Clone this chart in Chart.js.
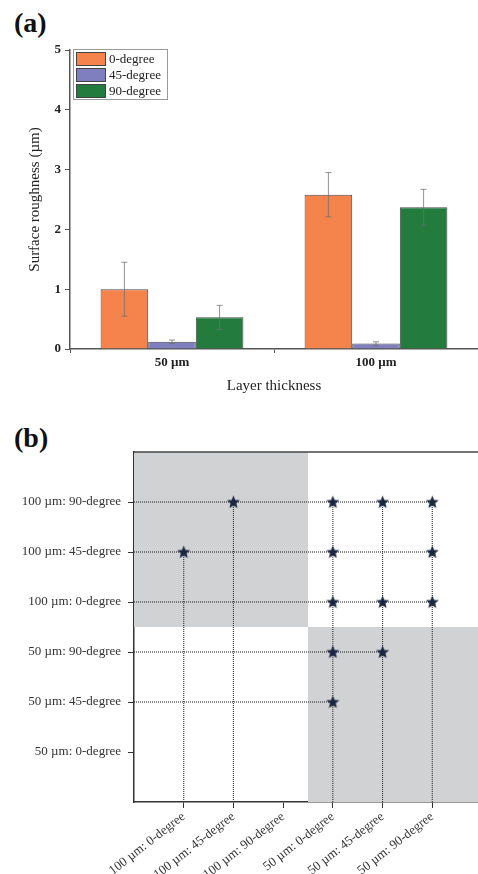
<!DOCTYPE html>
<html lang="en">
<head>
    <meta charset="UTF-8">
    <title>Surface roughness</title>
    <script src="https://cdn.jsdelivr.net/npm/chart.js"></script>
    <style>
        body {
            margin: 0;
            padding: 0;
            width: 478px;
            height: 874px;
            overflow: hidden;
            background: #ffffff;
            position: relative;
            font-family: 'Liberation Serif', 'DejaVu Serif', serif;
        }
        .panel-tag {
            position: absolute;
            left: 14px;
            font-size: 28px;
            font-weight: bold;
            line-height: 28px;
            color: #111;
        }
        canvas {
            position: absolute;
            left: 0;
        }
    </style>
</head>
<body>
    <div class="panel-tag" style="top: 9px;">(a)</div>
    <div class="panel-tag" style="top: 424px;">(b)</div>

    <canvas id="graficaA" width="478" height="400" style="top: 0;"></canvas>
    <canvas id="graficaB" width="490" height="474" style="top: 400px;"></canvas>

    <script>
        // ---- datos panel (a) ----
        const thickness = ['50 µm', '100 µm'];
        const orientations = ['0-degree', '45-degree', '90-degree'];
        const rough0 = [1.00, 2.58];
        const rough45 = [0.12, 0.09];
        const rough90 = [0.53, 2.37];
        const err0 = [0.45, 0.37];
        const err45 = [0.03, 0.03];
        const err90 = [0.20, 0.30];

        // ---- datos panel (b) ----
        const xGroups = ['100 µm: 0-degree', '100 µm: 45-degree', '100 µm: 90-degree',
                         '50 µm: 0-degree', '50 µm: 45-degree', '50 µm: 90-degree'];
        const yGroups = ['50 µm: 0-degree', '50 µm: 45-degree', '50 µm: 90-degree',
                         '100 µm: 0-degree', '100 µm: 45-degree', '100 µm: 90-degree'];
        // pares significativos (indice 1..6 en cada eje)
        const sigX = [2, 1, 4, 5, 6, 4, 6, 4, 5, 6, 4, 5, 4];
        const sigY = [6, 5, 6, 6, 6, 5, 5, 4, 4, 4, 3, 3, 2];

        const serif = "'Liberation Serif', 'DejaVu Serif', serif";
        const colores = ['#f4834c', '#7f7fbf', '#237c3e'];

        // barras de error
        const errorBars = {
            id: 'errorBars',
            afterDatasetsDraw(chart) {
                const ctx = chart.ctx;
                const y = chart.scales.y;
                chart.data.datasets.forEach((ds, i) => {
                    const meta = chart.getDatasetMeta(i);
                    meta.data.forEach((bar, j) => {
                        const v = ds.data[j], e = ds.errors[j];
                        const top = y.getPixelForValue(v + e);
                        const bot = y.getPixelForValue(v - e);
                        ctx.save();
                        ctx.strokeStyle = 'rgba(110,110,110,0.75)';
                        ctx.lineWidth = 1;
                        ctx.beginPath();
                        ctx.moveTo(bar.x, top); ctx.lineTo(bar.x, bot);
                        ctx.moveTo(bar.x - 3, top); ctx.lineTo(bar.x + 3, top);
                        ctx.moveTo(bar.x - 3, bot); ctx.lineTo(bar.x + 3, bot);
                        ctx.stroke();
                        ctx.restore();
                    });
                });
            }
        };

        // leyenda dentro del area
        const boxLegend = {
            id: 'boxLegend',
            afterDraw(chart) {
                const ctx = chart.ctx;
                const a = chart.chartArea;
                const x0 = a.left + 3, y0 = a.top - 1;
                ctx.save();
                ctx.fillStyle = '#fff';
                ctx.fillRect(x0, y0, 94, 50);
                ctx.strokeStyle = '#9a9a9a';
                ctx.lineWidth = 1;
                ctx.strokeRect(x0 + 0.5, y0 + 0.5, 94, 50);
                ctx.font = '13px ' + serif;
                ctx.textBaseline = 'middle';
                chart.data.datasets.forEach((ds, i) => {
                    const cy = y0 + 10 + i * 16;
                    ctx.fillStyle = ds.backgroundColor;
                    ctx.fillRect(x0 + 3, cy - 7, 30, 14);
                    ctx.strokeStyle = '#444';
                    ctx.strokeRect(x0 + 3.5, cy - 6.5, 29, 13);
                    ctx.fillStyle = '#222';
                    ctx.fillText(ds.label, x0 + 36, cy + 1);
                });
                ctx.restore();
            }
        };

        const serieData = [rough0, rough45, rough90];
        const serieErr = [err0, err45, err90];

        new Chart(document.getElementById('graficaA'), {
            type: 'bar',
            data: {
                labels: thickness,
                datasets: orientations.map((name, i) => ({
                    label: name,
                    data: serieData[i],
                    errors: serieErr[i],
                    backgroundColor: colores[i],
                    borderColor: '#4a4a4a',
                    borderWidth: 1,
                    categoryPercentage: 0.7,
                    barPercentage: 1.0
                }))
            },
            options: {
                responsive: false,
                animation: false,
                layout: { padding: { top: 50, right: 0, bottom: 0, left: 0 } },
                plugins: { legend: { display: false }, tooltip: { enabled: false } },
                scales: {
                    x: {
                        offset: true,
                        grid: { offset: true, drawOnChartArea: false, tickLength: 4, color: '#555' },
                        border: { color: '#555', width: 1.5 },
                        ticks: { font: { family: serif, size: 13, weight: 'bold' }, color: '#222', padding: 2 },
                        title: { display: true, text: 'Layer thickness', font: { family: serif, size: 15 }, color: '#222', padding: { top: 0, bottom: 5 } },
                        afterFit(s) { s.height = 51; }
                    },
                    y: {
                        min: 0,
                        max: 5,
                        ticks: { stepSize: 1, font: { family: serif, size: 13, weight: 'bold' }, color: '#222', padding: 4 },
                        grid: { drawOnChartArea: false, tickLength: 5, color: '#555' },
                        border: { color: '#555', width: 1.5 },
                        title: { display: true, text: 'Surface roughness (µm)', font: { family: serif, size: 15 }, color: '#222', padding: { top: 26, bottom: 0 } },
                        afterFit(s) { s.width = 70; }
                    }
                }
            },
            plugins: [errorBars, boxLegend]
        });

        // ---- panel (b) ----
        const estrella = document.createElement('canvas');
        estrella.width = 15; estrella.height = 15;
        (function () {
            const c = estrella.getContext('2d');
            c.beginPath();
            for (let k = 0; k < 10; k++) {
                const r = k % 2 === 0 ? 6.9 : 3.0;
                const ang = -Math.PI / 2 + k * Math.PI / 5;
                const px = 7.5 + r * Math.cos(ang), py = 7.9 + r * Math.sin(ang);
                if (k === 0) c.moveTo(px, py); else c.lineTo(px, py);
            }
            c.closePath();
            c.fillStyle = '#1b2640';
            c.fill();
        })();

        // lineas punteadas: cada fila y columna hasta su ultima estrella
        const lineas = [];
        const filas = {}, columnas = {};
        sigX.forEach((x, k) => {
            const y = sigY[k];
            filas[y] = Math.max(filas[y] || 0, x);
            columnas[x] = Math.max(columnas[x] || 0, y);
        });
        Object.keys(filas).forEach(y => lineas.push([{ x: 0, y: +y }, { x: filas[y], y: +y }]));
        Object.keys(columnas).forEach(x => lineas.push([{ x: +x, y: 0 }, { x: +x, y: columnas[x] }]));

        const half = xGroups.length / 2 + 0.5;
        const nMax = xGroups.length + 1;
        const sombreado = {
            id: 'sombreado',
            beforeDatasetsDraw(chart) {
                const ctx = chart.ctx, xs = chart.scales.x, ys = chart.scales.y;
                ctx.save();
                ctx.fillStyle = '#d1d2d4';
                const bloques = [[0, half, half, nMax], [half, nMax, 0, half]];
                bloques.forEach(b => {
                    const x1 = xs.getPixelForValue(b[0]), x2 = xs.getPixelForValue(b[1]);
                    const y1 = ys.getPixelForValue(b[3]), y2 = ys.getPixelForValue(b[2]);
                    ctx.fillRect(x1, y1, x2 - x1, y2 - y1);
                });
                ctx.restore();
            },
            afterDraw(chart) {
                const ctx = chart.ctx, a = chart.chartArea;
                ctx.save();
                ctx.strokeStyle = '#444';
                ctx.lineWidth = 1.5;
                ctx.beginPath();
                ctx.moveTo(a.left, a.top);
                ctx.lineTo(a.right, a.top);
                ctx.stroke();
                ctx.restore();
            }
        };

        const ticksSeis = s => { s.ticks = xGroups.map((g, i) => ({ value: i + 1 })); };

        new Chart(document.getElementById('graficaB'), {
            type: 'scatter',
            data: {
                datasets: [
                    {
                        data: sigX.map((x, k) => ({ x: x, y: sigY[k] })),
                        pointStyle: estrella,
                        pointRadius: 7,
                        order: 0
                    }
                ].concat(lineas.map(l => ({
                    type: 'line',
                    data: l,
                    borderColor: '#2a2a2a',
                    borderWidth: 1.1,
                    borderDash: [1, 1],
                    pointRadius: 0,
                    fill: false,
                    order: 1
                })))
            },
            options: {
                responsive: false,
                animation: false,
                layout: { padding: { top: 52, right: 6, bottom: 0, left: 0 } },
                plugins: { legend: { display: false }, tooltip: { enabled: false } },
                scales: {
                    x: {
                        type: 'linear',
                        min: 0,
                        max: nMax,
                        afterBuildTicks: ticksSeis,
                        ticks: {
                            autoSkip: false,
                            minRotation: 38,
                            maxRotation: 38,
                            padding: 1,
                            font: { family: serif, size: 13 },
                            color: '#333',
                            callback: v => xGroups[v - 1]
                        },
                        grid: { drawOnChartArea: false, tickLength: 6, color: '#333' },
                        border: { color: '#333', width: 1.5 },
                        afterFit(s) { s.height = 72; }
                    },
                    y: {
                        type: 'linear',
                        min: 0,
                        max: nMax,
                        afterBuildTicks: ticksSeis,
                        ticks: {
                            padding: 7,
                            font: { family: serif, size: 13 },
                            color: '#333',
                            callback: v => yGroups[v - 1]
                        },
                        grid: { drawOnChartArea: false, tickLength: 6, color: '#333' },
                        border: { color: '#333', width: 1.5 },
                        afterFit(s) { s.width = 134; }
                    }
                }
            },
            plugins: [sombreado]
        });
    </script>
</body>
</html>
